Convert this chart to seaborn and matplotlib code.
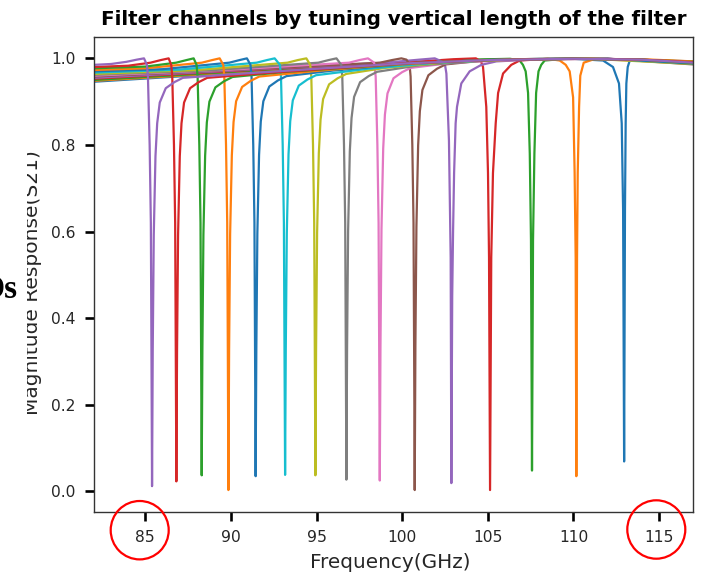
import matplotlib
matplotlib.use("Agg")
import matplotlib.pyplot as plt
from matplotlib.patches import Ellipse
from matplotlib.transforms import Bbox, TransformedBbox
import seaborn as sns
import pandas as pd

# ---- data (frequency in GHz, |S21|) ----
f_1129 = [82, 95, 101, 105, 110, 111.73, 112.31, 112.66, 112.82, 112.9, 112.96, 113.01, 113.05, 113.09, 113.17, 113.29, 114.5, 117]
s_1129 = [0.946, 0.978, 0.99, 0.997, 0.999, 0.995, 0.98, 0.942, 0.85, 0.65, 0.069, 0.65, 0.85, 0.942, 0.98, 0.995, 0.996, 0.993]

f_1101 = [82, 95, 101, 105, 108.5, 109.2, 109.55, 109.78, 109.98, 110.07, 110.13, 110.17, 110.21, 110.25, 110.33, 110.4, 110.6, 111.2, 114, 117]
s_1101 = [0.948, 0.979, 0.991, 0.997, 0.999, 0.995, 0.985, 0.97, 0.91, 0.735, 0.54, 0.035, 0.54, 0.735, 0.888, 0.96, 0.99, 0.998, 0.998, 0.993]

f_1075 = [82, 94, 100, 104, 106.3, 106.86, 107.05, 107.21, 107.35, 107.45, 107.52, 107.58, 107.64, 107.72, 107.82, 107.96, 108.12, 108.32, 109.5, 113, 117]
s_1075 = [0.950, 0.978, 0.99, 0.997, 0.999, 0.995, 0.985, 0.97, 0.92, 0.78, 0.58, 0.048, 0.58, 0.78, 0.92, 0.97, 0.985, 0.995, 0.999, 0.998, 0.992]

f_1051 = [82, 93, 100, 103, 104.3, 104.6, 104.72, 104.91, 105.01, 105.07, 105.13, 105.2, 105.3, 105.46, 105.6, 105.89, 106.37, 106.86, 108.5, 112, 117]
s_1051 = [0.953, 0.977, 0.99, 0.998, 1.0, 0.993, 0.98, 0.888, 0.735, 0.54, 0.003, 0.54, 0.735, 0.85, 0.92, 0.965, 0.985, 0.995, 0.999, 0.999, 0.990]

f_1029 = [82, 92, 99, 101.0, 101.9, 102.48, 102.58, 102.73, 102.83, 102.87, 102.92, 102.97, 103.03, 103.12, 103.2, 103.45, 103.94, 104.62, 105.5, 108, 112, 117]
s_1029 = [0.955, 0.976, 0.99, 0.997, 1.0, 0.99, 0.965, 0.81, 0.54, 0.019, 0.45, 0.6, 0.735, 0.85, 0.888, 0.942, 0.97, 0.985, 0.993, 0.998, 0.999, 0.991]

f_1007 = [82, 91, 98.7, 99.4, 99.95, 100.25, 100.43, 100.49, 100.59, 100.66, 100.695, 100.73, 100.77, 100.83, 100.93, 101.03, 101.18, 101.53, 102.03, 102.53, 104.5, 108, 112, 117]
s_1007 = [0.958, 0.975, 0.99, 0.996, 1.0, 0.997, 0.985, 0.958, 0.80, 0.62, 0.33, 0.003, 0.335, 0.611, 0.799, 0.878, 0.927, 0.961, 0.976, 0.986, 0.994, 0.998, 0.999, 0.986]

f_987 = [82, 90, 96.9, 97.5, 98.0, 98.36, 98.45, 98.55, 98.62, 98.655, 98.69, 98.73, 98.79, 98.89, 98.99, 99.14, 99.49, 99.99, 100.49, 103, 107, 111, 117]
s_987 = [0.960, 0.974, 0.99, 0.996, 1.0, 0.99, 0.958, 0.80, 0.62, 0.33, 0.025, 0.333, 0.606, 0.792, 0.870, 0.919, 0.954, 0.968, 0.978, 0.990, 0.997, 0.999, 0.989]

f_967 = [82, 89, 95.1, 95.7, 96.16, 96.44, 96.50, 96.60, 96.67, 96.705, 96.74, 96.78, 96.84, 96.94, 97.04, 97.19, 97.54, 98.04, 98.54, 101, 105, 109, 113, 117]
s_967 = [0.962, 0.973, 0.99, 0.996, 1.0, 0.985, 0.958, 0.80, 0.62, 0.33, 0.027, 0.329, 0.601, 0.785, 0.862, 0.911, 0.945, 0.959, 0.969, 0.984, 0.995, 0.999, 0.998, 0.991]

f_949 = [82, 88, 93.3, 93.9, 94.40, 94.63, 94.69, 94.79, 94.86, 94.895, 94.93, 94.97, 95.03, 95.13, 95.23, 95.38, 95.73, 96.23, 96.73, 99, 103, 107, 111, 117]
s_949 = [0.964, 0.973, 0.99, 0.996, 1.0, 0.985, 0.958, 0.80, 0.62, 0.33, 0.037, 0.328, 0.598, 0.781, 0.858, 0.906, 0.940, 0.954, 0.964, 0.978, 0.992, 0.998, 0.999, 0.987]

f_932 = [82, 87, 91.5, 92.1, 92.55, 92.86, 92.92, 93.02, 93.09, 93.125, 93.16, 93.20, 93.26, 93.36, 93.46, 93.61, 93.96, 94.46, 94.96, 98, 102, 106, 110, 114, 117]
s_932 = [0.967, 0.974, 0.99, 0.996, 1.0, 0.985, 0.958, 0.80, 0.62, 0.33, 0.038, 0.327, 0.596, 0.778, 0.855, 0.903, 0.937, 0.951, 0.961, 0.976, 0.990, 0.997, 0.999, 0.997, 0.990]

f_914 = [82, 86, 89.9, 90.5, 90.93, 91.14, 91.20, 91.30, 91.37, 91.405, 91.44, 91.48, 91.54, 91.64, 91.74, 91.89, 92.24, 92.74, 93.24, 96, 100, 104, 108, 112, 117]
s_914 = [0.970, 0.975, 0.99, 0.996, 1.0, 0.985, 0.958, 0.80, 0.62, 0.33, 0.035, 0.326, 0.595, 0.777, 0.854, 0.901, 0.935, 0.949, 0.959, 0.972, 0.986, 0.995, 0.999, 0.999, 0.988]

f_899 = [82, 85, 88.3, 88.9, 89.34, 89.55, 89.61, 89.71, 89.78, 89.815, 89.85, 89.89, 89.95, 90.05, 90.15, 90.30, 90.65, 91.15, 91.65, 95, 99, 103, 107, 111, 114, 117]
s_899 = [0.973, 0.977, 0.99, 0.996, 1.0, 0.985, 0.958, 0.80, 0.62, 0.33, 0.003, 0.326, 0.594, 0.776, 0.853, 0.901, 0.934, 0.948, 0.958, 0.971, 0.984, 0.993, 0.998, 0.999, 0.997, 0.992]

f_883 = [82, 85, 86.8, 87.4, 87.82, 87.99, 88.05, 88.15, 88.22, 88.255, 88.29, 88.33, 88.39, 88.49, 88.59, 88.74, 89.09, 89.59, 90.09, 93, 97, 101, 105, 110, 114, 117]
s_883 = [0.977, 0.981, 0.99, 0.996, 1.0, 0.985, 0.958, 0.80, 0.62, 0.33, 0.037, 0.325, 0.593, 0.775, 0.852, 0.900, 0.933, 0.947, 0.957, 0.968, 0.979, 0.990, 0.996, 0.999, 0.997, 0.989]

f_868 = [82, 84, 85.3, 85.9, 86.36, 86.51, 86.57, 86.67, 86.74, 86.775, 86.81, 86.85, 86.91, 87.01, 87.11, 87.26, 87.61, 88.11, 88.61, 92, 96, 100, 105, 110, 114, 117]
s_868 = [0.980, 0.983, 0.99, 0.996, 1.0, 0.985, 0.958, 0.80, 0.62, 0.33, 0.023, 0.325, 0.592, 0.774, 0.850, 0.898, 0.931, 0.945, 0.955, 0.966, 0.977, 0.988, 0.996, 0.999, 0.997, 0.991]

f_854 = [82, 83, 83.9, 84.5, 84.92, 85.09, 85.15, 85.25, 85.32, 85.355, 85.39, 85.43, 85.49, 85.59, 85.69, 85.84, 86.19, 86.69, 87.19, 90, 95, 100, 105, 110, 114, 117]
s_854 = [0.985, 0.987, 0.992, 0.997, 1.0, 0.985, 0.958, 0.80, 0.62, 0.33, 0.012, 0.325, 0.592, 0.774, 0.850, 0.898, 0.931, 0.945, 0.955, 0.963, 0.976, 0.988, 0.996, 0.999, 0.997, 0.990]

# drawing order (highest channel first, as in the reference)
channels = [
    ("112.96", f_1129, s_1129), ("110.17", f_1101, s_1101), ("107.58", f_1075, s_1075),
    ("105.13", f_1051, s_1051), ("102.87", f_1029, s_1029), ("100.73", f_1007, s_1007),
    ("98.69", f_987, s_987), ("96.74", f_967, s_967), ("94.93", f_949, s_949),
    ("93.16", f_932, s_932), ("91.44", f_914, s_914), ("89.85", f_899, s_899),
    ("88.29", f_883, s_883), ("86.81", f_868, s_868), ("85.39", f_854, s_854),
]

x_ticks = [85, 90, 95, 100, 105, 110, 115]
y_ticks = [0.0, 0.2, 0.4, 0.6, 0.8, 1.0]

title_text = "Filter channels by tuning vertical length of the filter"
x_label = "Frequency(GHz)"
y_label = "Magnitude Response(S21)"

rows = []
for name, fs, ss in channels:
    for fv, sv in zip(fs, ss):
        rows.append({"channel": name, "freq": fv, "s21": sv})
df = pd.DataFrame(rows)

sns.set_style("ticks")
plt.rcParams["font.family"] = ["DejaVu Sans"]

fig = plt.figure(figsize=(7.08, 5.76), dpi=100)
ax = fig.add_axes([94 / 708, 1 - 511.7 / 576, (693.3 - 94) / 708, (511.7 - 36.7) / 576])

tab10 = sns.color_palette("tab10", 10)
palette = [tab10[i % 10] for i in range(len(channels))]
sns.lineplot(data=df, x="freq", y="s21", hue="channel",
             hue_order=[c[0] for c in channels], palette=palette,
             estimator=None, sort=False, legend=False, linewidth=1.6, ax=ax)

ax.set_xlim(82, 117)
ax.set_ylim(-0.047, 1.05)
ax.set_xticks(x_ticks)
ax.set_yticks(y_ticks)
ax.set_yticklabels([f"{v:.1f}" for v in y_ticks])
ax.tick_params(axis="both", which="major", labelsize=11.2, length=6.5, width=1.9,
               color="black", labelcolor="#262626")
ax.tick_params(axis="x", pad=7)
ax.tick_params(axis="y", pad=7)
for sp in ax.spines.values():
    sp.set_linewidth(1.0)
    sp.set_color("#333333")
    sp.set_visible(True)

ax.set_title(title_text, fontsize=14.3, fontweight="bold", color="black", pad=8.4)
ax.set_xlabel(x_label, fontsize=14.4, color="#262626")
ax.xaxis.set_label_coords(0.494, -0.086)
ax.set_ylabel(y_label, fontsize=14.5, color="#262626")
ax.yaxis.set_label_coords(-0.087, 0.4825)

# the reference crops the left edge of the y label
ylab = ax.yaxis.label
ylab.set_clip_box(TransformedBbox(Bbox([[27 / 708, 0.0], [1.0, 1.0]]), fig.transFigure))
ylab.set_clip_on(True)

# red circles highlighting the 85 and 115 tick labels
for cx, cy in [(139.7, 530.2), (656.3, 529.5)]:
    fig.patches.append(Ellipse((cx / 708, 1 - cy / 576), 58 / 708, 58.4 / 576,
                               transform=fig.transFigure, fill=False,
                               edgecolor="#ff0000", linewidth=1.6, zorder=10))

fig.text(18 / 708, 1 - 298 / 576, "Ds", ha="right", va="baseline",
         fontsize=24, fontweight="bold", family=["Liberation Serif", "DejaVu Serif"],
         color="black")

fig.savefig("out.png", dpi=100)
